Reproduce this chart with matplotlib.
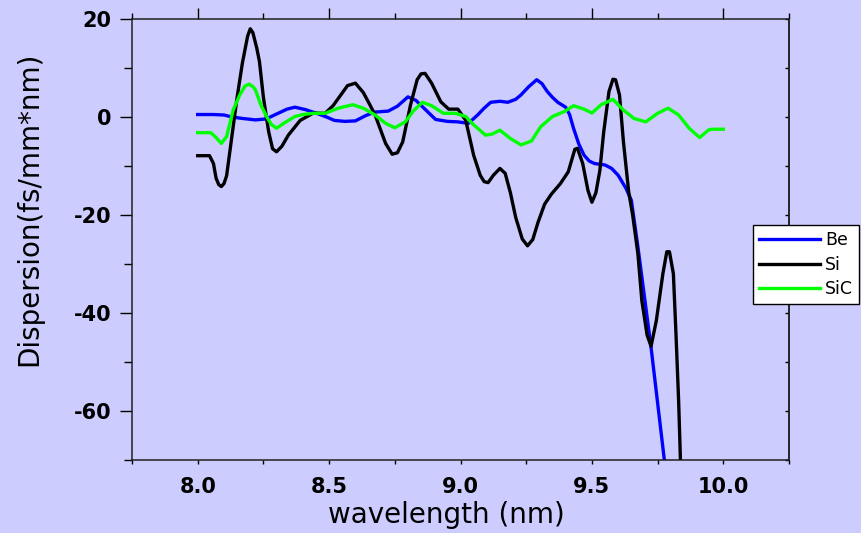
"""
Dispersion of Be, Si and SiC vs wavelength
"""

import numpy as np
import matplotlib
matplotlib.use('Agg')
import matplotlib.pyplot as plt
from matplotlib.ticker import MultipleLocator

plt.rcParams['axes.unicode_minus'] = False

# Be curve
be_wl = [8.00, 8.06, 8.10, 8.13, 8.17, 8.22, 8.26, 8.30, 8.34, 8.37, 8.41, 8.45,
         8.49, 8.52, 8.56, 8.60, 8.64, 8.675, 8.725, 8.76, 8.80, 8.83, 8.855,
         8.88, 8.905, 8.95, 8.99, 9.03, 9.065, 9.09, 9.115, 9.15, 9.18, 9.21,
         9.23, 9.26, 9.29, 9.31, 9.33, 9.35, 9.37, 9.40, 9.415, 9.43, 9.45,
         9.47, 9.49, 9.51, 9.55, 9.575, 9.60, 9.63, 9.65, 9.675, 9.725, 9.78]
be_disp = [0.5, 0.5, 0.4, 0.0, -0.3, -0.6, -0.4, 0.6, 1.6, 2.0, 1.5, 0.8,
           0.0, -0.7, -0.9, -0.8, 0.3, 1.0, 1.2, 2.2, 4.1, 3.4, 2.1,
           0.8, -0.5, -0.9, -1.0, -1.3, 0.4, 1.8, 3.0, 3.2, 3.0, 3.6,
           4.5, 6.2, 7.6, 6.8, 5.2, 4.0, 3.0, 2.0, 0.5, -2.3, -5.5,
           -7.8, -9.0, -9.5, -9.8, -10.5, -11.9, -14.6, -17.0, -26.5, -47.0, -72.0]

# Si curve
si_wl = [8.00, 8.045, 8.06, 8.07, 8.08, 8.09, 8.10, 8.11, 8.13, 8.15, 8.17,
         8.19, 8.20, 8.21, 8.225, 8.235, 8.25, 8.27, 8.285, 8.30, 8.32, 8.345,
         8.39, 8.44, 8.485, 8.515, 8.55, 8.57, 8.60, 8.63, 8.655, 8.675,
         8.715, 8.74, 8.76, 8.78, 8.81, 8.835, 8.85, 8.865, 8.89, 8.925,
         8.955, 8.99, 9.02, 9.05, 9.075, 9.09, 9.105, 9.125, 9.15, 9.17,
         9.19, 9.21, 9.235, 9.255, 9.275, 9.295, 9.32, 9.345, 9.38, 9.41,
         9.435, 9.445, 9.465, 9.485, 9.50, 9.515, 9.53, 9.545, 9.565, 9.58,
         9.59, 9.605, 9.62, 9.64, 9.655, 9.675, 9.69, 9.71, 9.725, 9.745,
         9.77, 9.785, 9.795, 9.81, 9.82, 9.83, 9.838]
si_disp = [-7.9, -7.9, -9.5, -12.5, -13.8, -14.2, -13.6, -12.0, -4.0, 4.0, 11.0,
           16.5, 18.0, 17.2, 14.0, 11.3, 4.0, -3.0, -6.5, -7.1, -6.0, -3.7,
           -0.7, 0.8, 0.75, 2.3, 4.9, 6.4, 6.9, 5.0, 2.5, 0.4,
           -5.4, -7.6, -7.3, -5.1, 2.5, 7.6, 8.8, 8.9, 6.9, 3.1,
           1.6, 1.6, -0.7, -7.8, -11.9, -13.2, -13.4, -11.9, -10.5, -11.5,
           -15.5, -20.5, -24.9, -26.3, -25.0, -21.5, -17.8, -15.8, -13.6, -11.2,
           -6.6, -6.4, -9.5, -15.0, -17.4, -15.5, -11.0, -3.0, 5.2, 7.7,
           7.6, 4.5, -5.1, -15.3, -20.0, -27.9, -37.5, -44.5, -46.8, -41.6,
           -32.0, -27.5, -27.5, -32.0, -44.4, -58.0, -72.0]

# SiC curve
sic_wl = [8.00, 8.05, 8.07, 8.09, 8.11, 8.135, 8.16, 8.18, 8.195, 8.21, 8.22,
          8.24, 8.263, 8.28, 8.30, 8.33, 8.37, 8.40, 8.44, 8.485, 8.535, 8.59,
          8.63, 8.675, 8.715, 8.75, 8.79, 8.82, 8.855, 8.89, 8.935, 8.98, 9.02,
          9.05, 9.095, 9.12, 9.15, 9.19, 9.23, 9.27, 9.305, 9.35, 9.395,
          9.43, 9.47, 9.50, 9.535, 9.58, 9.62, 9.66, 9.705, 9.75, 9.79,
          9.83, 9.87, 9.91, 9.945, 9.96, 10.0]
sic_disp = [-3.2, -3.2, -4.2, -5.4, -4.0, 1.4, 4.5, 6.3, 6.7, 6.2, 5.5,
            2.5, 0.0, -1.5, -2.3, -1.2, 0.1, 0.5, 0.75, 0.75, 1.8, 2.5,
            1.8, 0.4, -1.3, -2.2, -1.0, 1.2, 3.0, 2.3, 0.75, 0.75, 0.1,
            -1.6, -3.7, -3.5, -2.7, -4.4, -5.7, -4.9, -2.0, 0.1, 1.1,
            2.3, 1.6, 0.8, 2.5, 3.6, 1.4, -0.3, -1.0, 0.75, 1.8,
            0.4, -2.3, -4.2, -2.6, -2.5, -2.5]

labels = ['Be', 'Si', 'SiC']
colors = ['#0000FF', '#000000', '#00FF00']

bg = '#CCCCFF'

fig = plt.figure(figsize=(8.61, 5.33), dpi=100, facecolor=bg)
ax = fig.add_axes([0.1533, 0.1370, 0.7631, 0.8274], facecolor=bg)

for wl, d, lab, c in zip([be_wl, si_wl, sic_wl], [be_disp, si_disp, sic_disp], labels, colors):
    ax.plot(wl, d, color=c, lw=2.4, label=lab, solid_joinstyle='round')

ax.set_xlim(7.75, 10.25)
ax.set_ylim(-70, 20)

# ticks
ax.xaxis.set_major_locator(MultipleLocator(0.5))
ax.xaxis.set_minor_locator(MultipleLocator(0.25))
ax.yaxis.set_major_locator(MultipleLocator(20))
ax.yaxis.set_minor_locator(MultipleLocator(10))
ax.set_xticks(np.arange(8.0, 10.01, 0.5))
ax.tick_params(axis='x', which='major', direction='out', length=3, width=1, pad=9,
               labelsize=15, top=True)
ax.tick_params(axis='x', which='minor', direction='out', length=3, width=1, top=True)
ax.tick_params(axis='y', which='major', direction='out', length=9, width=1, pad=6,
               labelsize=15)
ax.tick_params(axis='y', which='minor', direction='out', length=6, width=1)
for lab in ax.get_xticklabels() + ax.get_yticklabels():
    lab.set_fontweight('bold')

# top ticks longer and outward, right ticks short and inward
for t in ax.xaxis.get_major_ticks():
    t.tick2line.set_markersize(8)
for t in ax.xaxis.get_minor_ticks():
    t.tick2line.set_markersize(4)
ax2 = ax.secondary_yaxis('right')
ax2.yaxis.set_major_locator(MultipleLocator(10))
ax2.tick_params(axis='y', direction='in', length=3, width=1, labelright=False)

for sp in ax.spines.values():
    sp.set_linewidth(1.1)
    sp.set_color('#202020')
ax2.spines['right'].set_linewidth(1.1)
ax2.spines['right'].set_color('#202020')

ax.set_xlabel('wavelength (nm)', fontsize=20, va='center')
ax.xaxis.set_label_coords(0.479, -0.1247)
ax.set_ylabel('Dispersion(fs/mm*nm)', fontsize=20, va='center')
ax.yaxis.set_label_coords(-0.1568, 0.569)

leg = ax.legend(loc='upper left', bbox_to_anchor=(0.8746, 0.5779),
                bbox_transform=fig.transFigure, fontsize=12.5, frameon=True,
                fancybox=False, framealpha=1, facecolor='white', edgecolor='black',
                handlelength=3.5, handletextpad=0.3, borderpad=0.35,
                labelspacing=0.38, borderaxespad=0)
leg.get_frame().set_linewidth(1.0)

fig.savefig('out.png', dpi=100, facecolor=bg)
